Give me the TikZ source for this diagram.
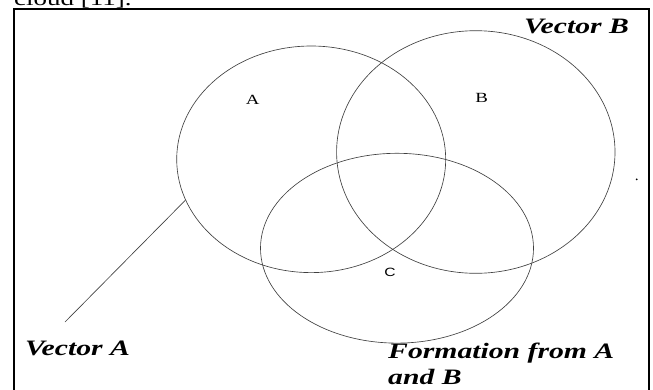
\documentclass[tikz,border=0pt]{standalone}
\usepackage{fontspec}
\setmainfont{Liberation Serif}
\newfontfamily\labfont[FakeStretch=1.35]{Liberation Serif}
\newfontfamily\letfont[FakeStretch=1.3]{Liberation Sans}
\usetikzlibrary{shapes.geometric}

\begin{document}
\begin{tikzpicture}[x=1pt,y=-1pt,
  set/.style={draw=black!75,line width=0.65pt,ellipse,inner sep=0pt},
  vec/.style={font=\labfont\bfseries\itshape\fontsize{22}{26}\selectfont,inner sep=0pt,anchor=base west,align=left},
  let/.style={font=\labfont\fontsize{14}{16}\selectfont,inner sep=0pt}]
\useasboundingbox (0,0) rectangle (653,389);
\node[anchor=base west,inner sep=0pt,font=\labfont\fontsize{20}{24}\selectfont] (cap) at (14,5) {cloud [11].};
\draw[line width=2pt] (14,9) rectangle (649,400);
% the three sets
\node[set,minimum width=269pt,minimum height=226.6pt] (a) at (311.2,159.3) {};
\node[set,minimum width=278.4pt,minimum height=242.6pt] (b) at (475.8,152) {};
\node[set,minimum width=273pt,minimum height=189.8pt] (c) at (397,248.2) {};
\node[let] (la) at (252.7,100.3) {A};
\node[let] (lb) at (481.7,98.3) {B};
\node[let,font=\letfont\fontsize{12}{14}\selectfont] (lc) at (390,272.7) {C};
% labels
\node[vec] (vb) at (524,33) {Vector B};
\node[vec] (va) at (25,355) {Vector A};
\node[vec] (vc) at (388,384) {Formation from A\\and B};
\coordinate (tail) at (65,322);
\draw[black!75,line width=0.65pt] (tail) -- (a.198.6);
\node[circle,fill,inner sep=0pt,minimum size=2pt] (dot) at (636.7,179.3) {};
\end{tikzpicture}
\end{document}
